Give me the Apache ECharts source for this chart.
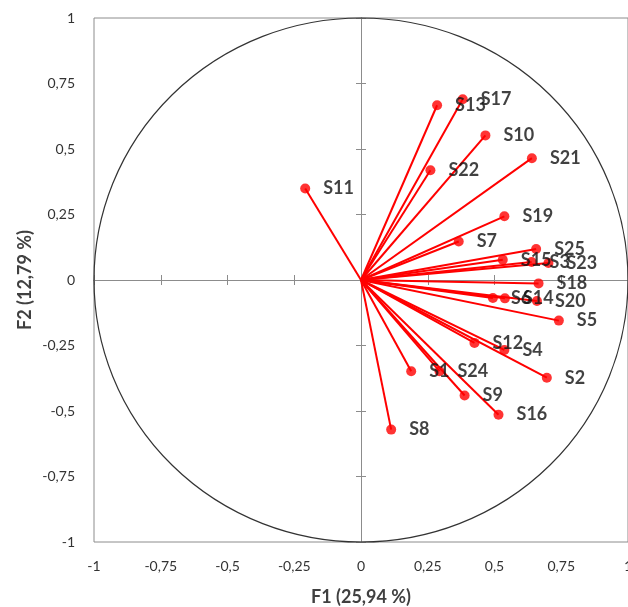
<!DOCTYPE html>
<html>
<head>
<meta charset="utf-8">
<script src="https://cdn.jsdelivr.net/npm/echarts@6/dist/echarts.min.js"></script>
<style>
html,body{margin:0;padding:0;background:#fff;}
#chart{width:628px;height:607px;}
</style>
</head>
<body>
<div id="chart"></div>
<script>
// Data (loadings on F1 and F2)
var names = ['S1','S2','S3','S4','S5','S6','S7','S8','S9','S10','S11','S12','S13','S14','S15','S16','S17','S18','S19','S20','S21','S22','S23','S24','S25'];
var f1 = [0.188, 0.696, 0.639, 0.537, 0.741, 0.494, 0.366, 0.113, 0.388, 0.466, -0.209, 0.425, 0.285, 0.539, 0.531, 0.515, 0.381, 0.665, 0.537, 0.659, 0.640, 0.260, 0.702, 0.294, 0.656];
var f2 = [-0.348, -0.373, 0.069, -0.267, -0.155, -0.069, 0.147, -0.571, -0.441, 0.552, 0.349, -0.240, 0.667, -0.070, 0.077, -0.514, 0.690, -0.013, 0.243, -0.080, 0.465, 0.419, 0.065, -0.348, 0.118];
var ticks = [-1, -0.75, -0.5, -0.25, 0, 0.25, 0.5, 0.75, 1];
var xTitle = 'F1 (25,94 %)';
var yTitle = 'F2 (12,79 %)';

var pts = names.map(function (n, i) { return { name: n, value: [f1[i], f2[i]] }; });

function fmt(v) { return String(v).replace('.', ','); }

var chart = echarts.init(document.getElementById('chart'), null, { renderer: 'canvas' });

var gray = '#8c8c8c';
var baseAxis = { min: ticks[0], max: ticks[ticks.length - 1], interval: 0.25, splitLine: { show: false } };

function zeroAxis(inside) {
  return Object.assign({}, baseAxis, {
    position: 'bottom',
    axisLine: { show: true, onZero: true, lineStyle: { color: gray, width: 1 } },
    axisTick: { show: true, inside: inside, length: 5, lineStyle: { color: gray } },
    axisLabel: { show: false }
  });
}
function zeroYAxis(inside) {
  return Object.assign({}, baseAxis, {
    position: 'left',
    axisLine: { show: true, onZero: true, lineStyle: { color: gray, width: 1 } },
    axisTick: { show: true, inside: inside, length: 5, lineStyle: { color: gray } },
    axisLabel: { show: false }
  });
}

var option = {
  animation: false,
  backgroundColor: '#ffffff',
  grid: { left: 94, right: 0, top: 18, bottom: 65, show: true, borderColor: gray, borderWidth: 1, backgroundColor: 'transparent', containLabel: false, outerBoundsMode: 'none' },
  xAxis: [
    Object.assign({}, baseAxis, {
      position: 'bottom',
      axisLine: { show: false, onZero: false },
      axisTick: { show: false },
      axisLabel: { formatter: fmt, fontSize: 14, color: '#333', fontFamily: 'Lato', margin: 17 },
      name: xTitle, nameLocation: 'middle', nameGap: 46, nameMoveOverlap: false,
      nameTextStyle: { fontSize: 18, fontWeight: 'bold', color: '#404040', fontFamily: 'Lato' }
    }),
    zeroAxis(true),
    zeroAxis(false)
  ],
  yAxis: [
    Object.assign({}, baseAxis, {
      position: 'left',
      axisLine: { show: false, onZero: false },
      axisTick: { show: false },
      axisLabel: { formatter: fmt, fontSize: 14, color: '#333', fontFamily: 'Lato', margin: 19 },
      name: yTitle, nameLocation: 'middle', nameGap: 60, nameRotate: 90, nameMoveOverlap: false,
      nameTextStyle: { fontSize: 18, fontWeight: 'bold', color: '#404040', fontFamily: 'Lato' }
    }),
    zeroYAxis(true),
    zeroYAxis(false)
  ],
  series: [
    {
      type: 'custom',
      xAxisIndex: 0, yAxisIndex: 0,
      silent: true,
      clip: false,
      data: [[0, 0]],
      renderItem: function (params, api) {
        var c = api.coord([0, 0]);
        var px = api.coord([1, 0]);
        var py = api.coord([0, 1]);
        var rx = px[0] - c[0];
        var ry = c[1] - py[1];
        var d = 'M ' + (c[0] - rx) + ' ' + c[1] +
          ' A ' + rx + ' ' + ry + ' 0 1 0 ' + (c[0] + rx) + ' ' + c[1] +
          ' A ' + rx + ' ' + ry + ' 0 1 0 ' + (c[0] - rx) + ' ' + c[1] + ' Z';
        return {
          type: 'path',
          shape: { pathData: d },
          style: { fill: 'none', stroke: '#333', lineWidth: 1.2 }
        };
      }
    },
    {
      type: 'custom',
      xAxisIndex: 0, yAxisIndex: 0,
      silent: true,
      data: pts,
      renderItem: function (params, api) {
        var o = api.coord([0, 0]);
        var p = api.coord([api.value(0), api.value(1)]);
        return {
          type: 'line',
          shape: { x1: o[0], y1: o[1], x2: p[0], y2: p[1] },
          style: { stroke: '#ff0000', lineWidth: 2 }
        };
      }
    },
    {
      type: 'scatter',
      xAxisIndex: 0, yAxisIndex: 0,
      data: pts,
      symbol: 'circle',
      symbolSize: 10,
      itemStyle: { color: '#ff0000' },
      label: {
        show: true,
        position: 'right',
        distance: 13,
        formatter: '{b}',
        fontSize: 18,
        fontWeight: 'bold',
        color: '#111',
        fontFamily: 'Lato'
      }
    }
  ]
};
chart.setOption(option);
</script>
</body>
</html>
